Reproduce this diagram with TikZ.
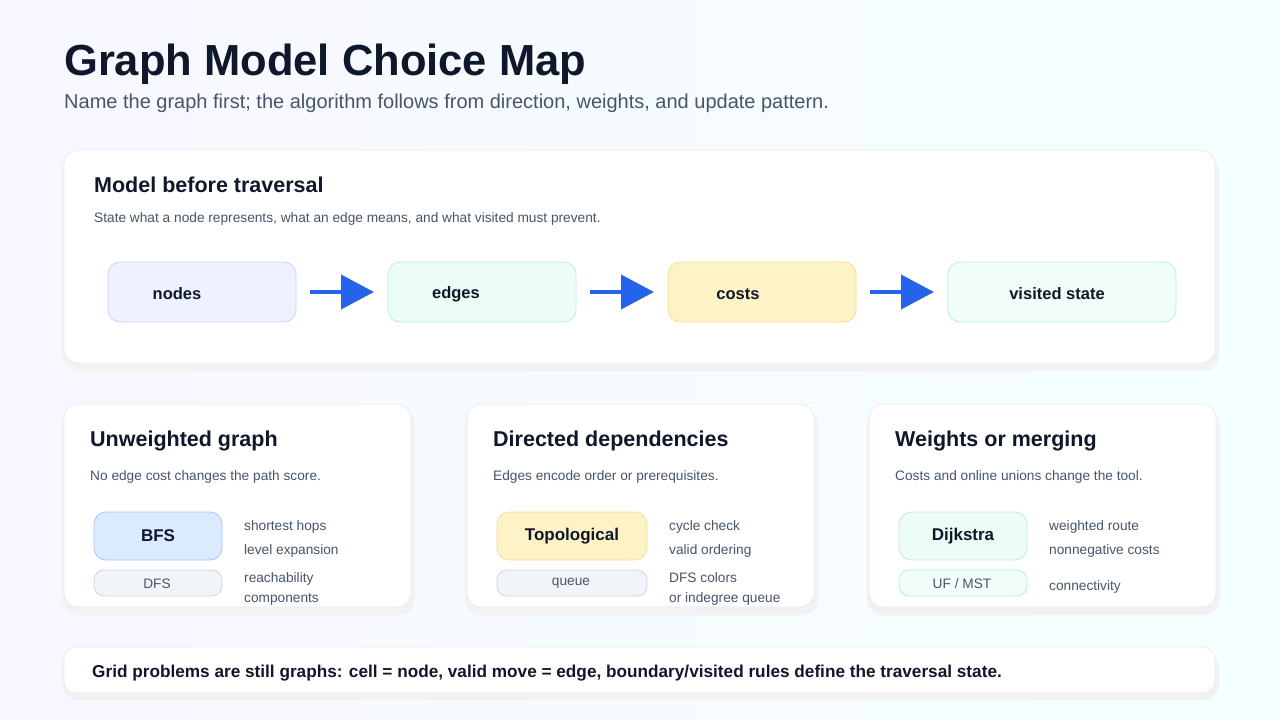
\documentclass[tikz,border=0pt]{standalone}
\usepackage{fontspec}
\setmainfont{Liberation Sans}
\usetikzlibrary{arrows.meta}
\definecolor{ink}{HTML}{0F172A}
\definecolor{sub}{HTML}{475569}
\definecolor{arr}{HTML}{2563EB}
\definecolor{bF}{HTML}{EEF2FF}\definecolor{bD}{HTML}{C7D2FE}
\definecolor{gF}{HTML}{ECFDF5}\definecolor{gD}{HTML}{BBF0D6}
\definecolor{yF}{HTML}{FEF3C7}\definecolor{yD}{HTML}{F5DE8A}
\definecolor{cF}{HTML}{F0FDFA}\definecolor{cD}{HTML}{B8EDE3}
\definecolor{b2F}{HTML}{DBEAFE}\definecolor{b2D}{HTML}{A9C6F0}
\definecolor{sF}{HTML}{F1F5F9}\definecolor{sD}{HTML}{CBD5E1}
\tikzset{
 card/.style={draw=black!8,fill=white,rounded corners=14pt,line width=0.8pt},
 shadow/.style={fill=black!5,rounded corners=16pt},
 pill/.style={rounded corners=12pt,line width=0.8pt},
 hd/.style={anchor=base west,inner sep=0pt,text=ink,font=\bfseries\fontsize{21.5}{24}\selectfont},
 sm/.style={anchor=base west,inner sep=0pt,text=sub,font=\fontsize{13.7}{15}\selectfont},
 pt/.style={text=ink,font=\bfseries\fontsize{16.5}{18}\selectfont},
 conn/.style={draw=arr,line width=4pt,-{Triangle[length=33pt,width=34pt]}},
}
\newcommand\ufmst{UF / MST}
\begin{document}
\begin{tikzpicture}[x=1pt,y=-1pt]
\fill[left color=blue!3!white,right color=cyan!4!white] (0,0) rectangle (1280,720);
\useasboundingbox (0,0) rectangle (1280,720);
\node[anchor=base west,inner sep=0pt,text=ink,font=\bfseries\fontsize{43.5}{46}\selectfont] (title) at (64,75) {Graph Model Choice Map};
\node[anchor=base west,inner sep=0pt,text=sub,font=\fontsize{20}{23}\selectfont] (subt) at (64,108) {Name the graph first; the algorithm follows from direction, weights, and update pattern.};
% top card
\fill[shadow] (62,156) rectangle (1219,371);
\draw[card] (64,150) rectangle (1215,363);
\node[hd] (th) at (94,192) {Model before traversal};
\node[sm] (ts) at (94,222) {State what a node represents, what an edge means, and what visited must prevent.};
\draw[pill,fill=bF,draw=bD] (108,262) rectangle (296,322);
\draw[pill,fill=gF,draw=gD] (388,262) rectangle (576,322);
\draw[pill,fill=yF,draw=yD] (668,262) rectangle (856,322);
\draw[pill,fill=cF,draw=cD] (948,262) rectangle (1176,322);
\node[pt] (n1) at (177,294) {nodes};
\node[pt] (n2) at (456,294) {edges};
\node[pt] (n3) at (738,294) {costs};
\node[pt] (n4) at (1057,294) {visited state};
\coordinate (a1) at (310,292); \coordinate (b1) at (374,292);
\coordinate (a2) at (590,292); \coordinate (b2) at (654,292);
\coordinate (a3) at (870,292); \coordinate (b3) at (934,292);
\draw[conn] (a1)--(b1); \draw[conn] (a2)--(b2); \draw[conn] (a3)--(b3);
% lower cards
\foreach \x/\h/\s/\m/\mf/\md/\k/\kf/\kd/\ta/\tb/\tc/\td/\w/\ty in {
 64/Unweighted graph/No edge cost changes the path score./BFS/b2F/b2D/DFS/sF/sD/shortest hops/level expansion/reachability/components/128/582,
 467/Directed dependencies/Edges encode order or prerequisites./Topological/yF/yD/queue/sF/sD/cycle check/valid ordering/DFS colors/or indegree queue/150/582,
 869/Weights or merging/Costs and online unions change the tool./Dijkstra/gF/gD/\ufmst/cF/cD/weighted route/nonnegative costs/connectivity//128/590}{
 \fill[shadow] (\x-2,410) rectangle (\x+351,615);
 \draw[card] (\x,404) rectangle (\x+347,607);
 \node[hd] at (\x+26,446) {\h};
 \node[sm] at (\x+26,480) {\s};
 \draw[pill,fill=\mf,draw=\md] (\x+30,512) rectangle (\x+30+\w,560);
 \node[pt,font=\bfseries\fontsize{17}{19}\selectfont] at (\x+30+\w/2,536) {\m};
 \draw[pill,rounded corners=10pt,fill=\kf,draw=\kd] (\x+30,570) rectangle (\x+30+\w,596);
 \node[text=sub,font=\fontsize{13.7}{15}\selectfont] at (\x+30+\w/2-1,583.5) {\k};
 \node[sm] at (\x+52+\w,530) {\ta};
 \node[sm] at (\x+52+\w,554) {\tb};
 \node[sm] at (\x+52+\w,\ty) {\tc};
 \node[sm] at (\x+52+\w,602) {\td};
}
\fill[shadow] (62,652) rectangle (1219,700);
\draw[card,rounded corners=12pt] (64,647) rectangle (1215,693);
\node[anchor=base west,inner sep=0pt,text=ink,font=\bfseries\fontsize{17.2}{19}\selectfont] (foot) at (92,677) {Grid problems are still graphs: cell = node, valid move = edge, boundary/visited rules define the traversal state.};
\end{tikzpicture}
\end{document}
